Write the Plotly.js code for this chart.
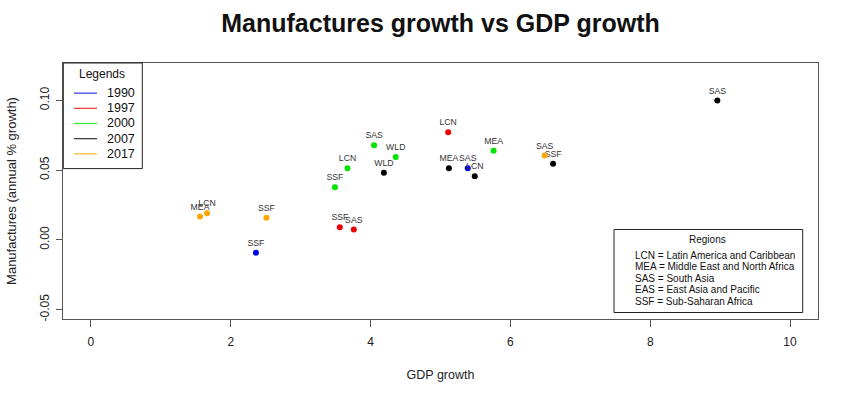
<!DOCTYPE html>
<html>
<head>
<meta charset="utf-8">
<script src="https://cdn.plot.ly/plotly-3.0.1.min.js"></script>
<style>html,body{margin:0;padding:0;background:#fff;}#chart{width:850px;height:396px;}</style>
</head>
<body>
<div id="chart"></div>
<script>
// ---- data ----
const years = ["1990", "1997", "2000", "2007", "2017"];
const yearColors = ["#0000ee", "#ee0000", "#00e600", "#000000", "#ffa500"];

const regions1990 = ["SSF", "SAS"];
const gdp1990 = [2.36, 5.39];
const manuf1990 = [-0.0093, 0.0514];

const regions1997 = ["LCN", "SSF", "SAS"];
const gdp1997 = [5.11, 3.56, 3.76];
const manuf1997 = [0.0772, 0.0090, 0.0074];

const regions2000 = ["SAS", "WLD", "LCN", "SSF", "MEA"];
const gdp2000 = [4.05, 4.36, 3.67, 3.49, 5.76];
const manuf2000 = [0.0679, 0.0593, 0.0514, 0.0377, 0.0638];

const regions2007 = ["SAS", "WLD", "MEA", "LCN", "SSF"];
const gdp2007 = [8.96, 4.19, 5.12, 5.49, 6.61];
const manuf2007 = [0.0999, 0.0481, 0.0514, 0.0456, 0.0545];

const regions2017 = ["MEA", "LCN", "SSF", "SAS"];
const gdp2017 = [1.56, 1.66, 2.51, 6.49];
const manuf2017 = [0.0167, 0.0191, 0.0158, 0.0605];

const regionNotes = [
  "LCN = Latin America and Caribbean",
  "MEA = Middle East and North Africa",
  "SAS = South Asia",
  "EAS = East Asia and Pacific",
  "SSF = Sub-Saharan Africa"
];

const xTicks = [0, 2, 4, 6, 8, 10];
const yTicks = [-0.05, 0.00, 0.05, 0.10];
const yTickText = ["-0.05", "0.00", "0.05", "0.10"];

// ---- build ----
const FONT = "Liberation Sans, Arial, sans-serif";
const series = [
  [regions1990, gdp1990, manuf1990],
  [regions1997, gdp1997, manuf1997],
  [regions2000, gdp2000, manuf2000],
  [regions2007, gdp2007, manuf2007],
  [regions2017, gdp2017, manuf2017]
];

const traces = series.map((s, i) => ({
  type: "scatter",
  mode: "markers+text",
  name: years[i],
  x: s[1],
  y: s[2],
  text: s[0],
  textposition: "top center",
  textfont: {family: FONT, size: 8.7, color: "#333"},
  marker: {color: yearColors[i], size: 6},
  cliponaxis: false,
  hoverinfo: "x+y+text"
}));

// plot area in pixels
const L = 63, R = 818, T = 62.5, B = 319;
const W = 850, H = 396;
const px = x => (x - L) / (R - L);
const py = y => (B - y) / (B - T);

const shapes = [];
const annotations = [];

// Legends box
shapes.push({type: "rect", xref: "paper", yref: "paper",
  x0: px(63.3), x1: px(142.3), y0: py(168.3), y1: py(62.5),
  line: {color: "#222", width: 1}, fillcolor: "#fff", layer: "above"});
annotations.push({xref: "paper", yref: "paper", x: px(102), y: py(73.5),
  text: "Legends", showarrow: false, xanchor: "center", yanchor: "middle",
  font: {family: FONT, size: 12, color: "#111"}});
const legYs = [92.7, 107.9, 123.1, 138.3, 153.5];
years.forEach((yr, i) => {
  shapes.push({type: "line", xref: "paper", yref: "paper",
    x0: px(74), x1: px(97), y0: py(legYs[i]), y1: py(legYs[i]),
    line: {color: yearColors[i], width: 1.2}, layer: "above", opacity: 0.8});
  annotations.push({xref: "paper", yref: "paper", x: px(137), y: py(legYs[i]),
    text: yr, showarrow: false, xanchor: "right", yanchor: "middle",
    font: {family: FONT, size: 12.5, color: "#111"}});
});

// Regions box
shapes.push({type: "rect", xref: "paper", yref: "paper",
  x0: px(614), x1: px(802.7), y0: py(312.5), y1: py(229.3),
  line: {color: "#222", width: 1}, fillcolor: "#fff", layer: "above"});
annotations.push({xref: "paper", yref: "paper", x: px(707), y: py(239.5),
  text: "Regions", showarrow: false, xanchor: "center", yanchor: "middle",
  font: {family: FONT, size: 10, color: "#111"}});
regionNotes.forEach((t, i) => {
  annotations.push({xref: "paper", yref: "paper", x: px(632.5), y: py(255 + i * 11.5),
    text: t, showarrow: false, xanchor: "left", yanchor: "middle",
    font: {family: FONT, size: 10, color: "#111"}});
});

const layout = {
  width: W, height: H,
  margin: {l: L, r: W - R, t: T, b: H - B, pad: 0},
  paper_bgcolor: "#fff", plot_bgcolor: "#fff",
  showlegend: false,
  font: {family: FONT, color: "#222"},
  title: {text: "<b>Manufactures growth vs GDP growth</b>",
    font: {family: FONT, size: 25, color: "#111"},
    x: 0.5, xref: "paper", xanchor: "center",
    y: 1 - 23 / H, yref: "container", yanchor: "middle"},
  xaxis: {
    range: [-0.4, 10.4], tickvals: xTicks, ticktext: xTicks.map(String),
    showgrid: false, zeroline: false,
    showline: true, mirror: true, linecolor: "#555", linewidth: 1,
    ticks: "outside", ticklen: 7, tickcolor: "#555", tickwidth: 1,
    ticklabelstandoff: 5,
    tickfont: {family: FONT, size: 12, color: "#222"},
    title: {text: "GDP growth", font: {family: FONT, size: 12.5, color: "#222"}, standoff: 21}
  },
  yaxis: {
    range: [-0.0568, 0.1268], tickvals: yTicks, ticktext: yTickText,
    tickangle: -90,
    showgrid: false, zeroline: false,
    showline: true, mirror: true, linecolor: "#555", linewidth: 1,
    ticks: "outside", ticklen: 6, tickcolor: "#555", tickwidth: 1,
    ticklabelstandoff: 2,
    tickfont: {family: FONT, size: 12, color: "#222"},
    title: {text: "Manufactures (annual % growth)", font: {family: FONT, size: 13, color: "#222"}, standoff: 18}
  },
  shapes: shapes,
  annotations: annotations
};

Plotly.newPlot("chart", traces, layout, {displayModeBar: false, staticPlot: true});
</script>
</body>
</html>
